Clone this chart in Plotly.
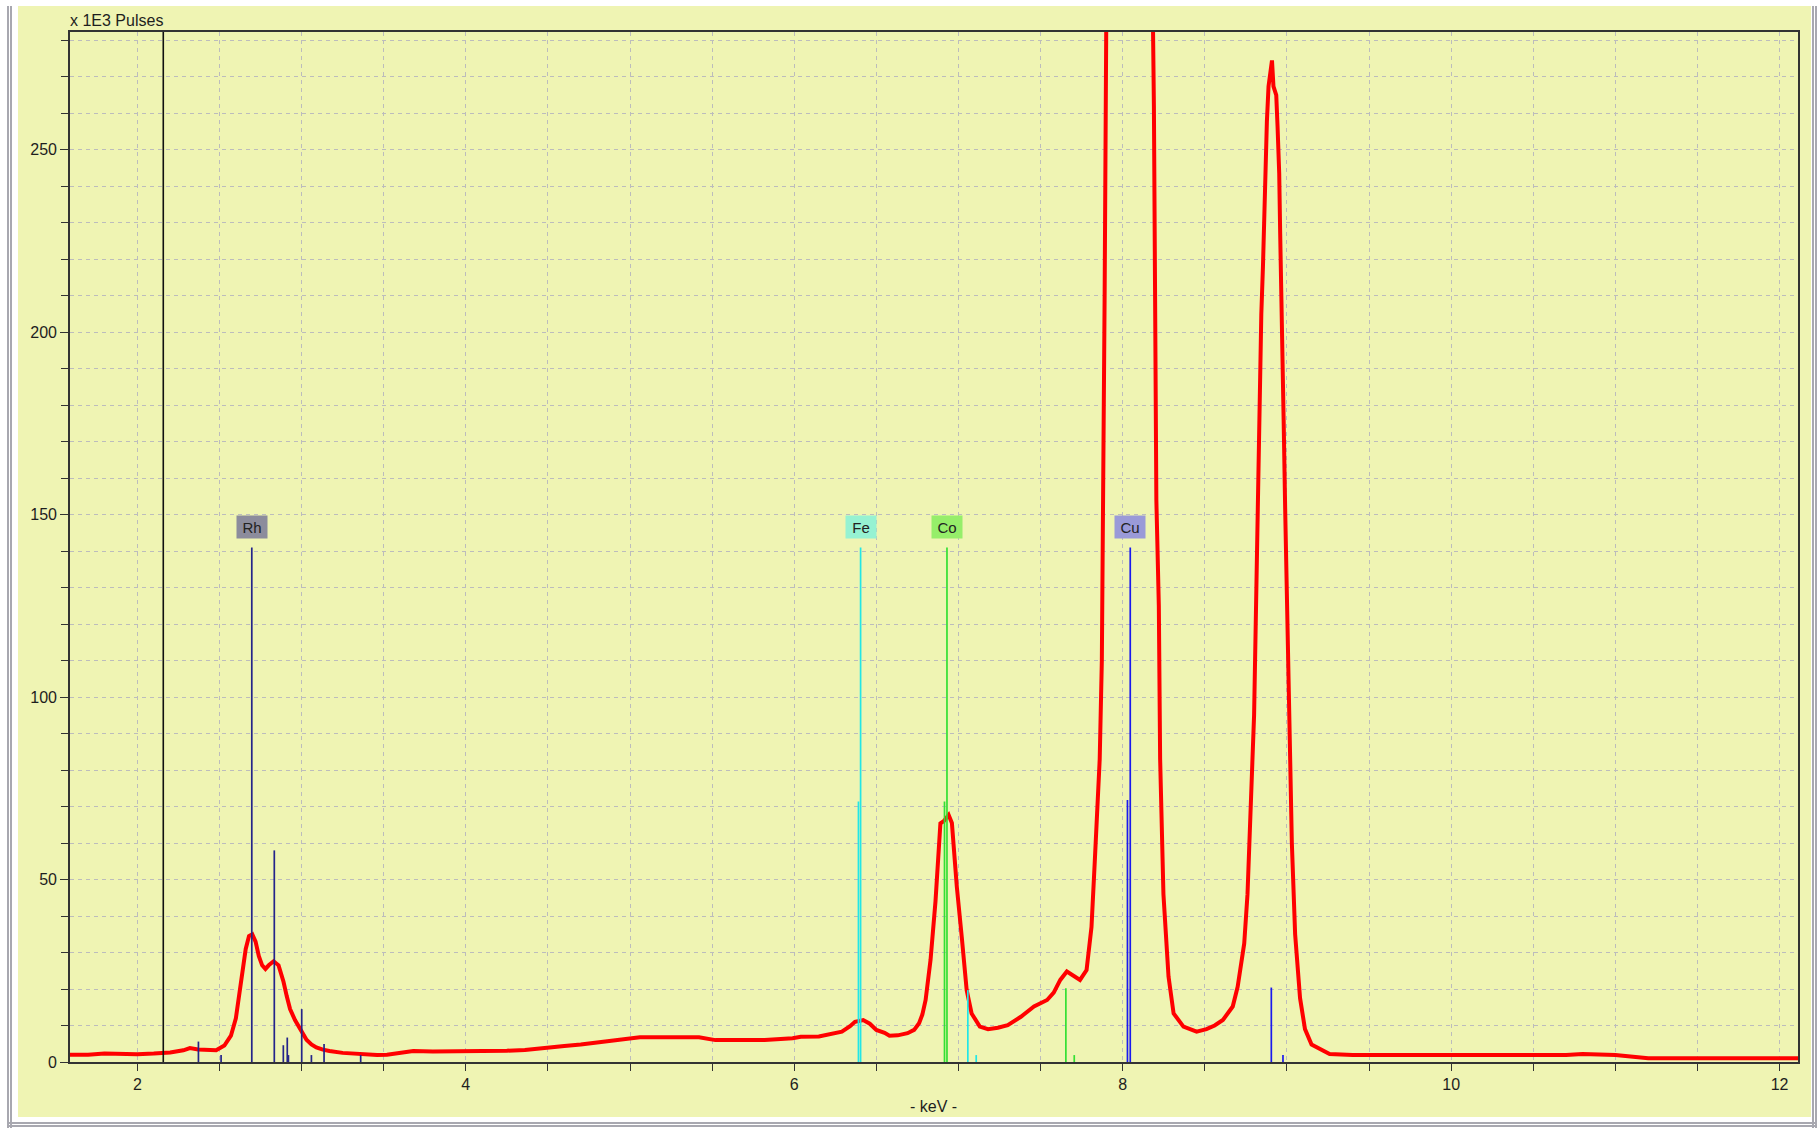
import plotly.graph_objects as go

# ---------------- data ----------------
energy_kev = [1.59, 1.70, 1.80, 1.90, 2.00, 2.10, 2.20, 2.28, 2.32, 2.37, 2.42, 2.48, 2.53, 2.57, 2.60,
              2.62, 2.64, 2.66, 2.68, 2.70, 2.72, 2.74, 2.76, 2.78, 2.80, 2.83, 2.86, 2.89, 2.91, 2.93,
              2.96, 2.98, 3.01, 3.03, 3.06, 3.09, 3.13, 3.17, 3.25, 3.35, 3.46, 3.52, 3.60, 3.68, 3.80,
              3.96, 4.10, 4.25, 4.36, 4.50, 4.60, 4.70, 4.80, 4.90, 5.06, 5.25, 5.42, 5.52, 5.70, 5.82,
              5.99, 6.04, 6.15, 6.24, 6.29, 6.34, 6.37, 6.42, 6.46, 6.50, 6.55, 6.58, 6.63, 6.69, 6.73,
              6.76, 6.78, 6.80, 6.83, 6.86, 6.88, 6.89, 6.91, 6.94, 6.96, 6.99, 7.02, 7.05, 7.08, 7.13,
              7.18, 7.24, 7.30, 7.38, 7.46, 7.54, 7.58, 7.62, 7.66, 7.70, 7.74, 7.78, 7.81, 7.83, 7.85,
              7.86, 7.873, 7.883, 7.89, 7.90, 7.92, 8.04, 8.16, 8.183, 8.19, 8.205, 8.22, 8.228, 8.248,
              8.279, 8.31, 8.37, 8.45, 8.51, 8.56, 8.61, 8.67, 8.70, 8.74, 8.76, 8.78, 8.80, 8.82, 8.83,
              8.844, 8.854, 8.868, 8.878, 8.888, 8.909, 8.918, 8.935, 8.943, 8.953, 8.959, 8.965, 8.973,
              8.98, 8.99, 9.01, 9.03, 9.05, 9.08, 9.11, 9.15, 9.26, 9.40, 9.60, 9.80, 10.0, 10.4, 10.7,
              10.8, 11.0, 11.2, 11.5, 12.0, 12.112]
pulses_k = [2.0, 2.0, 2.3, 2.2, 2.1, 2.3, 2.6, 3.2, 3.8, 3.4, 3.2, 3.2, 4.5, 7.2, 12,
            18, 25, 31, 34.5, 35, 33, 29, 26.5, 25.5, 26.5, 27.6, 26.5, 22, 18, 14.5,
            11.5, 9.8, 7.5, 6.1, 4.8, 4.0, 3.4, 3.0, 2.5, 2.2, 1.9, 2.0, 2.5, 3.0, 2.9,
            2.9, 3.0, 3.1, 3.3, 3.8, 4.4, 4.8, 5.3, 6.0, 6.8, 6.8, 6.8, 6.0, 6.0, 6.0,
            6.5, 6.9, 7.0, 7.7, 8.3, 9.8, 11.0, 11.5, 10.5, 8.8, 8.0, 7.2, 7.3, 7.9, 8.8,
            10.6, 13, 17, 28, 44, 60, 65.4, 66, 67.7, 65.5, 48, 34.3, 19.7, 13.3, 9.7,
            9.0, 9.4, 10.1, 12.4, 15.2, 17, 19, 22.5, 24.8, 23.5, 22.5, 25.2, 37, 55, 72.7,
            83, 110, 154, 210, 285, 380, 600, 380, 285, 262, 154, 125, 83, 46,
            23.4, 13.3, 9.7, 8.3, 9.0, 10, 11.5, 15.2, 20.6, 32.5, 46, 70, 95, 145, 173,
            205, 218, 243.6, 257.8, 267.4, 274.5, 267.4, 265, 256.4, 243.6, 227, 207.5, 190.6,
            176, 150, 99, 60, 35, 17.5, 9, 4.8, 2.2, 1.9, 1.9, 1.9, 1.9, 1.9, 1.9,
            2.2, 1.9, 1.0, 1.0, 1.0, 1.0]
assert len(energy_kev) == len(pulses_k)

cursor_kev = 2.158

element_names = ["Rh", "Fe", "Co", "Cu"]
element_label_kev = [2.697, 6.404, 6.930, 8.046]
rh_lines_kev = [2.372, 2.510, 2.697, 2.834, 2.889, 2.913, 2.920, 3.001, 3.060, 3.137, 3.360]
rh_lines_h = [5.6, 1.9, 141, 58, 4.6, 6.7, 1.9, 14.5, 1.9, 4.9, 1.9]
fe_lines_kev = [6.391, 6.404, 7.057, 7.108]
fe_lines_h = [71.4, 141, 19.7, 1.9]
co_lines_kev = [6.915, 6.930, 7.654, 7.705]
co_lines_h = [71.4, 141, 20.2, 1.9]
cu_lines_kev = [8.029, 8.046, 8.905, 8.976]
cu_lines_h = [71.8, 141, 20.4, 1.9]

x_range = [1.59, 12.112]
y_range = [0, 282.3]
label_y = 146.5

# ---------------- styling ----------------
W, H = 1820, 1132
ML, MR, MT, MB = 70, 22, 32, 70
PW, PH = W - ML - MR, H - MT - MB
BG = "#eff4b3"
GRID = "#bcbcbc"
FONT = "Liberation Sans"
TXT = "#1e1e1e"

line_colors = ["#24248a", "#22e6e6", "#33e033", "#1a1aee"]
box_colors = ["#8c8c9c", "#96f2d2", "#96ee6a", "#9a9ad8"]


def px2paper_x(px):
    return (px - ML) / PW


def px2paper_y(py):
    return (H - MB - py) / PH


def stems(xs, hs):
    X, Y = [], []
    for x, h in zip(xs, hs):
        X += [x, x, None]
        Y += [0, h, None]
    return X, Y


fig = go.Figure()

fig.add_trace(go.Scatter(x=energy_kev, y=pulses_k, mode="lines",
                         line=dict(color="#ff0000", width=4), hoverinfo="x+y",
                         showlegend=False))

for xs, hs, col in zip([rh_lines_kev, fe_lines_kev, co_lines_kev, cu_lines_kev],
                       [rh_lines_h, fe_lines_h, co_lines_h, cu_lines_h], line_colors):
    X, Y = stems(xs, hs)
    fig.add_trace(go.Scatter(x=X, y=Y, mode="lines", line=dict(color=col, width=1.7),
                             showlegend=False, hoverinfo="skip"))

fig.add_trace(go.Scatter(x=[cursor_kev, cursor_kev], y=[0, y_range[1]], mode="lines",
                         line=dict(color="#111111", width=1.6), showlegend=False,
                         hoverinfo="skip"))

annotations = []
for name, xk, bc in zip(element_names, element_label_kev, box_colors):
    annotations.append(dict(x=xk, y=label_y, xref="x", yref="y", text=name, showarrow=False,
                            bgcolor=bc, width=28, height=20, align="center", valign="middle",
                            font=dict(family=FONT, size=15, color="#222222")))

annotations.append(dict(x=-0.001, y=px2paper_y(20.5), xref="paper", yref="paper",
                        text="x 1E3 Pulses", showarrow=False, xanchor="left", yanchor="middle",
                        font=dict(family=FONT, size=16, color=TXT)))
annotations.append(dict(x=px2paper_x(933), y=px2paper_y(1106), xref="paper", yref="paper",
                        text="- keV -", showarrow=False, xanchor="center", yanchor="middle",
                        font=dict(family=FONT, size=16, color=TXT)))

# window frame
shapes = [
    dict(type="rect", xref="paper", yref="paper", layer="below",
         x0=px2paper_x(18), x1=px2paper_x(1811), y0=px2paper_y(1117), y1=px2paper_y(6),
         fillcolor=BG, line=dict(width=0)),
]
for px in [8, 11]:
    shapes.append(dict(type="line", xref="paper", yref="paper", layer="below",
                       x0=px2paper_x(px), x1=px2paper_x(px), y0=px2paper_y(1128), y1=px2paper_y(6),
                       line=dict(color="#a8a8b0", width=2)))
for px in [1813, 1816]:
    shapes.append(dict(type="line", xref="paper", yref="paper", layer="below",
                       x0=px2paper_x(px), x1=px2paper_x(px), y0=px2paper_y(1128), y1=px2paper_y(6),
                       line=dict(color="#a8a8b0", width=2)))
for py in [1123, 1126]:
    shapes.append(dict(type="line", xref="paper", yref="paper", layer="below",
                       x0=px2paper_x(8), x1=px2paper_x(1816), y0=px2paper_y(py), y1=px2paper_y(py),
                       line=dict(color="#a8a8b0", width=2)))

axis_common = dict(showline=True, mirror=True, linecolor="#333333", linewidth=1.6,
                   ticks="outside", tickcolor="#333333", tickwidth=1.3,
                   showgrid=True, gridcolor=GRID, gridwidth=1.3, griddash="4px,4px",
                   zeroline=False, tickfont=dict(family=FONT, size=16, color=TXT))

fig.update_layout(
    width=W, height=H,
    margin=dict(l=ML, r=MR, t=MT, b=MB, pad=0),
    paper_bgcolor="#ffffff", plot_bgcolor=BG,
    showlegend=False,
    xaxis=dict(range=x_range, tickmode="linear", tick0=0, dtick=2, ticklen=7,
               minor=dict(dtick=0.5, tick0=0, ticks="outside", ticklen=7, tickcolor="#333333",
                          showgrid=True, gridcolor=GRID, gridwidth=1.3, griddash="4px,4px"),
               **axis_common),
    yaxis=dict(range=y_range, tickmode="linear", tick0=0, dtick=50, ticklen=8,
               minor=dict(dtick=10, tick0=0, ticks="outside", ticklen=7, tickcolor="#333333",
                          showgrid=True, gridcolor=GRID, gridwidth=1.3, griddash="4px,4px"),
               **axis_common),
    annotations=annotations,
    shapes=shapes,
)

fig.write_html("out.html", config={"displayModeBar": False},
               post_script="document.body.style.margin='0';")
